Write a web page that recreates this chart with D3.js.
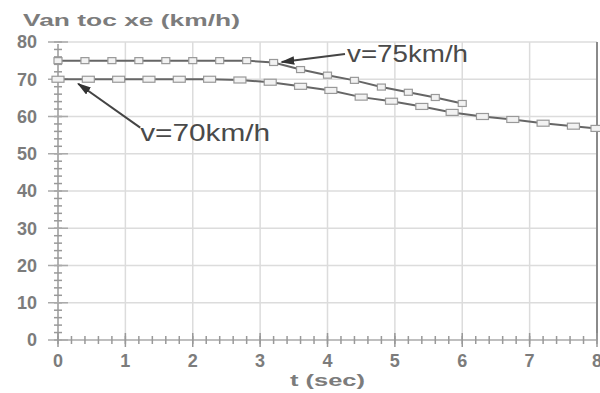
<!DOCTYPE html>
<html><head><meta charset="utf-8">
<script src="https://cdn.jsdelivr.net/npm/d3@7/dist/d3.min.js"></script>
<style>
body{margin:0;background:#fff;}
svg{display:block;}
</style></head>
<body>
<svg id="c" width="600" height="393"></svg>
<script>
// ---- data ----
const t75 = [0,0.4,0.8,1.2,1.6,2.0,2.4,2.8,3.2,3.6,4.0,4.4,4.8,5.2,5.6,6.0];
const v75 = [75,75,75,75,75,75,75,75,74.5,72.6,71.1,69.7,67.9,66.5,65.1,63.5];
const t70 = [0,0.45,0.9,1.35,1.8,2.25,2.7,3.15,3.6,4.05,4.5,4.95,5.4,5.85,6.3,6.75,7.2,7.65,8.0];
const v70 = [70,70,70,70,70,70,69.8,69.2,68.1,67.0,65.2,64.1,62.7,61.1,60.0,59.2,58.2,57.4,56.8];
const xTicks = [0,1,2,3,4,5,6,7,8];
const yTicks = [0,10,20,30,40,50,60,70,80];
const yTitle = "Van toc xe (km/h)";
const xTitle = "t (sec)";
const labelText = ["v=75km/h","v=70km/h"];
const labelAt = [[4.29,74.6],[1.22,53.4]];
const arrowFrom = [[4.26,76.8],[1.22,57.0]];
const arrowTo = [[3.32,74.6],[0.30,68.8]];

// ---- layout ----
const L=58, R=597, T=42, B=340;
const x = d3.scaleLinear().domain([0,8]).range([L,R]);
const y = d3.scaleLinear().domain([0,80]).range([B,T]);
const svg = d3.select("#c");
const txt = "#7c7c7c";
const FF = "Liberation Sans, Arial, sans-serif";

// grid
svg.append("g").selectAll("line").data(xTicks.slice(1)).join("line")
  .attr("x1",d=>x(d)).attr("x2",d=>x(d)).attr("y1",T).attr("y2",B)
  .attr("stroke","#dcdcdc").attr("stroke-width",1.5);
svg.append("g").selectAll("line").data(yTicks.slice(1)).join("line")
  .attr("x1",L).attr("x2",R).attr("y1",d=>y(d)).attr("y2",d=>y(d))
  .attr("stroke","#dcdcdc").attr("stroke-width",1.5);
// right border
svg.append("line").attr("x1",x(8)).attr("x2",x(8)).attr("y1",T).attr("y2",B)
  .attr("stroke","#8a8a8a").attr("stroke-width",2);

// y axis
const yMinor = d3.range(0,81,2);
const gy = svg.append("g");
gy.append("line").attr("x1",L).attr("x2",L).attr("y1",T+2).attr("y2",B).attr("stroke","#999").attr("stroke-width",1.5);
gy.selectAll("line.mn").data(yMinor).join("line").attr("class","mn")
  .attr("x1",L-4).attr("x2",L+4).attr("y1",d=>y(d)).attr("y2",d=>y(d))
  .attr("stroke","#999").attr("stroke-width",1.5);
gy.selectAll("line.mj").data(yTicks).join("line").attr("class","mj")
  .attr("x1",L-10).attr("x2",L+10).attr("y1",d=>y(d)).attr("y2",d=>y(d))
  .attr("stroke","#aaa").attr("stroke-width",1.5);
gy.selectAll("text").data(yTicks).join("text")
  .attr("x",L-21).attr("y",d=>y(d)).attr("dy","0.36em").attr("text-anchor","end")
  .attr("font-family",FF).attr("font-weight","bold")
  .attr("font-size",18).attr("fill",txt).text(d=>d);

// x axis
const xMinor = d3.range(0,8.01,0.2);
const gx = svg.append("g");
gx.append("line").attr("x1",L).attr("x2",R).attr("y1",B).attr("y2",B).attr("stroke","#aaa").attr("stroke-width",1.5);
gx.selectAll("line.mn").data(xMinor).join("line").attr("class","mn")
  .attr("x1",d=>x(d)).attr("x2",d=>x(d)).attr("y1",B-4).attr("y2",B+4)
  .attr("stroke","#999").attr("stroke-width",1.5);
gx.selectAll("line.mj").data(xTicks).join("line").attr("class","mj")
  .attr("x1",d=>x(d)).attr("x2",d=>x(d)).attr("y1",B-7).attr("y2",B+7)
  .attr("stroke","#999").attr("stroke-width",1.5);
gx.selectAll("text").data(xTicks).join("text")
  .attr("x",d=>x(d)).attr("y",B+27).attr("text-anchor","middle")
  .attr("font-family",FF).attr("font-weight","bold")
  .attr("font-size",18).attr("fill",txt).text(d=>d);

// titles
svg.append("text").attr("x",23).attr("y",26)
  .attr("font-family",FF).attr("font-weight","bold")
  .attr("font-size",17).attr("textLength",217).attr("lengthAdjust","spacingAndGlyphs")
  .attr("fill",txt).text(yTitle);
svg.append("text").attr("x",290).attr("y",386)
  .attr("font-family",FF).attr("font-weight","bold")
  .attr("font-size",16).attr("textLength",75).attr("lengthAdjust","spacingAndGlyphs")
  .attr("fill",txt).text(xTitle);

// series
const line = d3.line().x(d=>x(d[0])).y(d=>y(d[1]));
const s75 = t75.map((t,i)=>[t,v75[i]]);
const s70 = t70.map((t,i)=>[t,v70[i]]);
svg.append("path").datum(s75).attr("d",line).attr("fill","none").attr("stroke","#666").attr("stroke-width",2);
svg.append("path").datum(s70).attr("d",line).attr("fill","none").attr("stroke","#666").attr("stroke-width",2);
svg.append("g").selectAll("rect").data(s75).join("rect")
  .attr("x",d=>x(d[0])-4).attr("y",d=>y(d[1])-3).attr("width",8).attr("height",6)
  .attr("fill","#f2f2f2").attr("stroke","#999").attr("stroke-width",1.2);
svg.append("g").selectAll("rect").data(s70).join("rect")
  .attr("x",d=>x(d[0])-6).attr("y",d=>y(d[1])-3).attr("width",12).attr("height",6)
  .attr("fill","#f2f2f2").attr("stroke","#999").attr("stroke-width",1.2);

// annotations
svg.append("defs").append("marker").attr("id","ah").attr("viewBox","0 0 10 6")
  .attr("refX",9).attr("refY",3).attr("markerWidth",7).attr("markerHeight",4.2)
  .attr("orient","auto").attr("markerUnits","strokeWidth")
  .append("path").attr("d","M0,0 L10,3 L0,6 z").attr("fill","#333");
const labelW = [121,130];
labelText.forEach((s,i)=>{
  svg.append("line").attr("x1",x(arrowFrom[i][0])).attr("y1",y(arrowFrom[i][1]))
    .attr("x2",x(arrowTo[i][0])).attr("y2",y(arrowTo[i][1]))
    .attr("stroke","#444").attr("stroke-width",2).attr("marker-end","url(#ah)");
  svg.append("text").attr("x",x(labelAt[i][0])).attr("y",y(labelAt[i][1]))
    .attr("font-family",FF)
    .attr("font-size",24).attr("textLength",labelW[i]).attr("lengthAdjust","spacingAndGlyphs")
    .attr("fill","#4a4a4a").text(s);
});
</script>
</body></html>
